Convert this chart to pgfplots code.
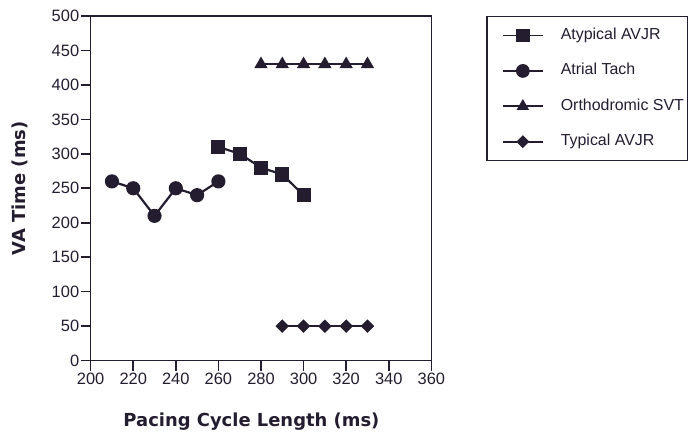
\documentclass[border=0pt]{standalone}
\usepackage{pgfplots}
\pgfplotsset{compat=1.18}
\usepackage{fontspec}
\setmainfont{Liberation Sans}
\newfontfamily\lab{DejaVu Sans}
\definecolor{ink}{HTML}{241D30}
\begin{document}
\begin{tikzpicture}
\begin{axis}[
  scale only axis, width=342pt, height=346pt,
  xmin=200, xmax=360, ymin=0, ymax=500,
  xtick={200,220,...,360}, ytick={0,50,...,500},
  axis line style={ink, line width=1.6pt},
  tick style={ink, line width=1.6pt},
  tick align=outside, major tick length=10pt,
  xtick pos=bottom, ytick pos=left,
  /pgf/number format/assume math mode=true,
  ticklabel style={font=\fontsize{16.5}{19}\selectfont, text=ink},
  yticklabel style={xshift=2pt},
  xticklabel style={yshift=1pt},
  xlabel={\lab\bfseries Pacing Cycle Length (ms)},
  ylabel={\lab\bfseries VA Time (ms)},
  label style={font=\fontsize{18}{21}\selectfont, text=ink},
  xlabel style={at={(axis description cs:0.472,-0.1908)}, anchor=base},
  ylabel style={at={(axis description cs:-0.2076,0.5)}, anchor=center},
  legend cell align=left,
  legend style={at={(1.161,1.0)}, anchor=north west, draw=ink, line width=1.4pt,
    font=\fontsize{16}{19}\selectfont, text=ink, inner xsep=0pt, inner ysep=10pt,
    row sep=17.5pt, nodes={inner xsep=2pt, text height=11pt, text depth=3pt}},
  legend image code/.code={\draw[#1, line width=1.8pt] (0pt,0pt) -- (40pt,0pt) plot coordinates {(20pt,0pt)};
    \path (-15pt,0pt) (55pt,0pt);},
  every axis plot/.append style={ink, mark options={solid, fill=ink}},
]
\addplot[ink, line width=2.2pt, mark=square*, mark size=6pt] coordinates {(260,310) (270,300) (280,280) (290,270) (300,240)};
\addlegendentry{\makebox[125pt][l]{Atypical AVJR}}
\addplot[ink, line width=2.2pt, mark=*, mark size=6pt] coordinates {(210,260) (220,250) (230,210) (240,250) (250,240) (260,260)};
\addlegendentry{\makebox[125pt][l]{Atrial Tach}}
\addplot[ink, line width=2.2pt, mark=triangle*, mark size=5.5pt] coordinates {(280,430) (290,430) (300,430) (310,430) (320,430) (330,430)};
\addlegendentry{\makebox[125pt][l]{Orthodromic SVT}}
\addplot[ink, line width=2.2pt, mark=square*, mark size=3.7pt, mark options={rotate=45}] coordinates {(290,50) (300,50) (310,50) (320,50) (330,50)};
\addlegendentry{\makebox[125pt][l]{Typical AVJR}}
\end{axis}
\path[use as bounding box] (-91pt,-75pt) rectangle (597pt,362pt);
\end{tikzpicture}
\end{document}
